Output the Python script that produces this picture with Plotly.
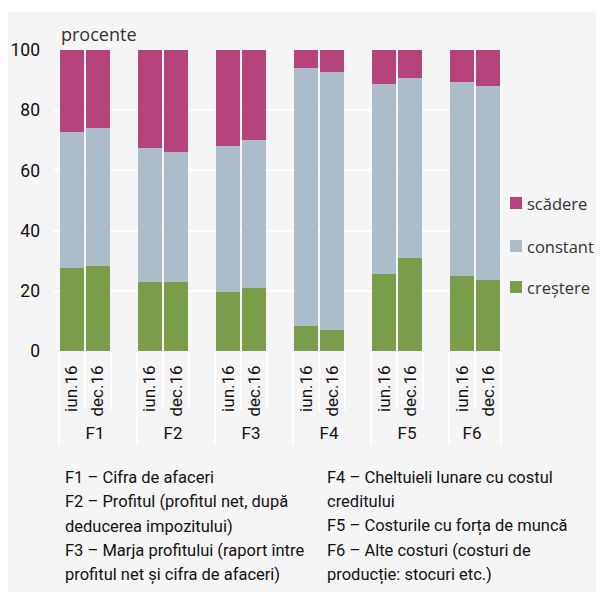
import plotly.graph_objects as go

# ---- data ----
groups = ["F1", "F2", "F3", "F4", "F5", "F6"]
periods = ["iun.16", "dec.16"]
crestere = [27.7, 28.2, 22.9, 22.9, 19.6, 20.9, 8.3, 7.0, 25.6, 30.9, 24.9, 23.6]
constant = [45.1, 45.9, 44.5, 43.2, 48.5, 49.2, 85.7, 85.7, 63.1, 59.8, 64.5, 64.4]
scadere = [27.2, 25.9, 32.6, 33.9, 31.9, 29.9, 6.0, 7.3, 11.3, 9.3, 10.6, 12.0]
series_names = ["creștere", "constant", "scădere"]
colors = ["#7b9c4a", "#adbcc9", "#b5447a"]
y_ticks = [0, 20, 40, 60, 80, 100]
y_title = "procente"
notes_left = ["F1 – Cifra de afaceri",
              "F2 – Profitul (profitul net, după",
              "deducerea impozitului)",
              "F3 – Marja profitului (raport între",
              "profitul net și cifra de afaceri)"]
notes_right = ["F4 – Cheltuieli lunare cu costul",
               "creditului",
               "F5 – Costurile cu forța de muncă",
               "F6 – Alte costuri (costuri de",
               "producție: stocuri etc.)"]

FONT = "Roboto, Liberation Sans, sans-serif"
SOFT = "Open Sans, sans-serif"
BG = "#f5f5f5"

# figure coordinates (the page adds an 8px body margin)
FW, FH = 596, 584
PX0, PX1, PY0, PY1 = 45, 493, 42, 343  # plot area in figure px
W = PX1 - PX0
H = PY1 - PY0

def px_x(x):
    return (x - PX0) / W

def px_y(y):
    return (PY1 - y) / H

def with_blanks(vals):
    out = []
    for gi in range(len(groups)):
        for pi in range(len(periods)):
            out.append(vals[gi * len(periods) + pi])
        if gi < len(groups) - 1:
            out.append(None)
    return out

outer, inner = [], []
for gi, g in enumerate(groups):
    for p in periods:
        outer.append(g)
        inner.append(p)
    if gi < len(groups) - 1:
        outer.append(g)
        inner.append(" ")

fig = go.Figure()
for name, vals, col in zip(series_names, [crestere, constant, scadere], colors):
    fig.add_trace(go.Bar(
        x=[outer, inner], y=with_blanks(vals), name=name,
        marker=dict(color=col, line=dict(width=0)),
        showlegend=False,
    ))

annotations = [
    dict(text=y_title, xref="paper", yref="paper", x=px_x(51), y=px_y(40),
         xanchor="left", yanchor="bottom", showarrow=False,
         font=dict(family=SOFT, size=18, color="#333")),
]
for col_x, lines in [(55, notes_left), (317, notes_right)]:
    for i, line in enumerate(lines):
        annotations.append(dict(
            text=line, xref="paper", yref="paper", x=px_x(col_x), y=px_y(469 + 24.5 * i),
            xanchor="left", yanchor="middle", align="left", showarrow=False,
            font=dict(family=FONT, size=16.5, color="#111")))

shapes = [dict(type="rect", xref="paper", yref="paper", layer="below",
               x0=px_x(0), x1=px_x(FW), y0=px_y(FH), y1=px_y(4),
               fillcolor=BG, line=dict(width=0))]

# legend (scădere on top, creștere at the bottom)
leg_y = [279, 238, 195]
for name, col, ly in zip(series_names, colors, leg_y):
    shapes.append(dict(type="rect", xref="paper", yref="paper",
                       x0=px_x(502), x1=px_x(514), y0=px_y(ly + 6), y1=px_y(ly - 6),
                       fillcolor=col, line=dict(width=0)))
    annotations.append(dict(text=name, xref="paper", yref="paper", x=px_x(517), y=px_y(ly),
                            xanchor="left", yanchor="middle", showarrow=False,
                            font=dict(family=SOFT, size=16.5, color="#333")))

fig.update_layout(
    width=FW, height=FH,
    margin=dict(l=PX0, r=FW - PX1, t=PY0, b=FH - PY1, pad=0, autoexpand=False),
    barmode="stack", bargap=0.08,
    paper_bgcolor="white", plot_bgcolor=BG,
    font=dict(family=FONT, size=17, color="#111"),
    showlegend=False,
    xaxis=dict(
        type="multicategory", range=[-0.73, 16.5],
        tickangle=-90, ticks="outside", tickson="boundaries",
        ticklen=58, tickcolor="white", tickwidth=2,
        ticklabelstandoff=10,
        showdividers=True, dividercolor="white", dividerwidth=2,
        showgrid=False, zeroline=False, showline=False,
        tickfont=dict(family=FONT, size=17, color="#111"),
    ),
    yaxis=dict(
        range=[0, 100], tickvals=y_ticks, showgrid=True, gridcolor="white",
        gridwidth=1.5, zeroline=False, showline=False, ticks="",
        ticklabelstandoff=12,
        tickfont=dict(family=FONT, size=17.5, color="#111"),
    ),
    shapes=shapes,
    annotations=annotations,
)

fig.write_html("out.html")
